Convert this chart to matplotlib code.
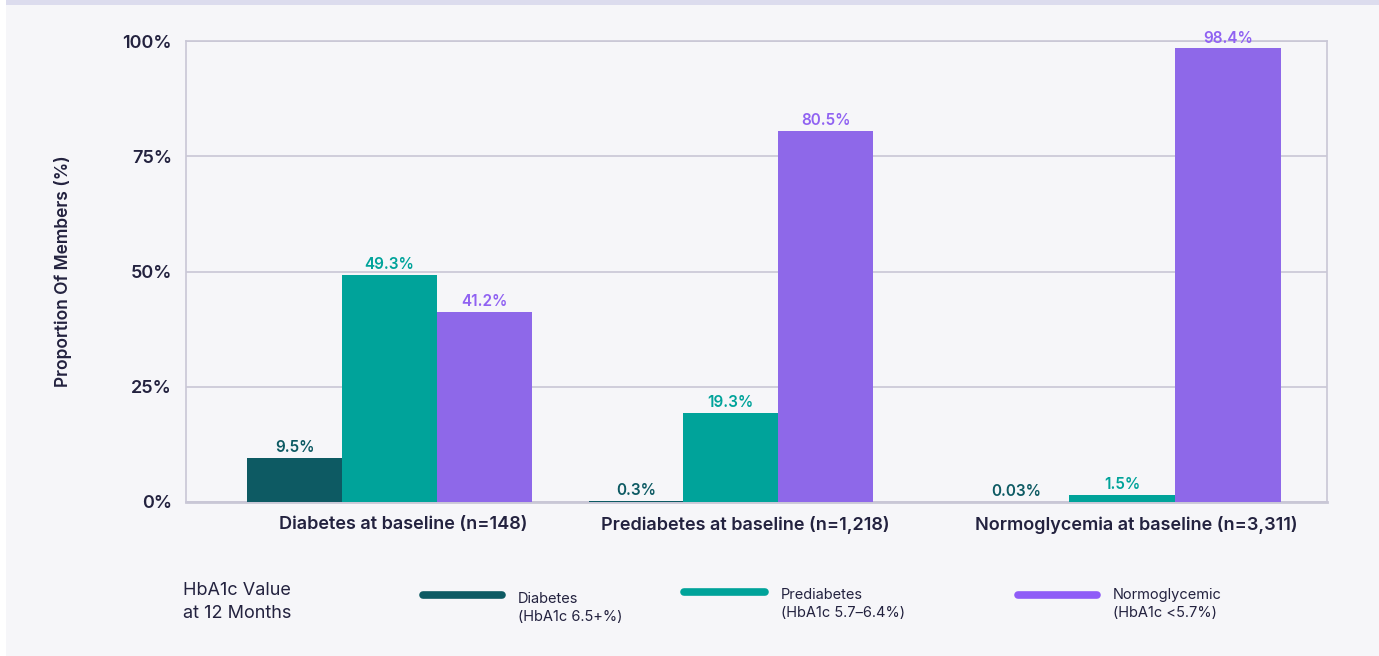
import matplotlib
matplotlib.use("Agg")
import matplotlib.pyplot as plt
import matplotlib.transforms as mtransforms
from matplotlib.lines import Line2D
from matplotlib.patches import Rectangle

# Baseline groups and HbA1c outcome at 12 months
groups = ["Diabetes at baseline (n=148)",
          "Prediabetes at baseline (n=1,218)",
          "Normoglycemia at baseline (n=3,311)"]
diabetes = [9.5, 0.3, 0.03]
prediabetes = [49.3, 19.3, 1.5]
normoglycemic = [41.2, 80.5, 98.4]
value_labels = [["9.5%", "0.3%", "0.03%"],
                ["49.3%", "19.3%", "1.5%"],
                ["41.2%", "80.5%", "98.4%"]]
series_names = ["Diabetes\n(HbA1c 6.5+%)",
                "Prediabetes\n(HbA1c 5.7\u20136.4%)",
                "Normoglycemic\n(HbA1c <5.7%)"]
yticks = [0, 25, 50, 75, 100]
ytick_labels = ["0%", "25%", "50%", "75%", "100%"]

bar_colors = ["#0d5a63", "#00a39a", "#8e68e9"]
label_colors = ["#0d5a63", "#00a39a", "#9062f2"]
key_colors = ["#0d5a63", "#00a39a", "#8f5cf7"]
ink = "#23223f"
grid_c = "#c9c7d6"

plt.rcParams["font.family"] = ["Inter", "DejaVu Sans"]

fig = plt.figure(figsize=(13.79, 6.56), dpi=100, facecolor="white")
fig.patches.append(Rectangle((6 / 1379, 0), 1 - 6 / 1379, 1, transform=fig.transFigure,
                             facecolor="#f6f6f9", edgecolor="none", zorder=-10))
fig.patches.append(Rectangle((6 / 1379, 1 - 5 / 656), 1 - 6 / 1379, 5 / 656,
                             transform=fig.transFigure, facecolor="#dcdcee",
                             edgecolor="none", zorder=-9))

ax = fig.add_axes([186 / 1379, 154 / 656, 1141 / 1379, 461 / 656])
ax.set_facecolor("#f6f6f9")

# group centres and bar widths in axis units
group_x = [0.1784, 0.4775, 0.8203]
bar_w = [0.0830, 0.0830, 0.0930]

series = [diabetes, prediabetes, normoglycemic]
for s, vals in enumerate(series):
    xs = [group_x[g] + (s - 1) * bar_w[g] for g in range(len(groups))]
    bars = ax.bar(xs, vals, width=bar_w, color=bar_colors[s], zorder=3)
    for b, lab in zip(bars, value_labels[s]):
        ax.annotate(lab, (b.get_x() + b.get_width() / 2, b.get_height()),
                    xytext=(0, 2), textcoords="offset points", ha="center",
                    va="bottom", fontsize=11, fontweight="semibold",
                    color=label_colors[s], zorder=5, annotation_clip=False)

ax.set_xlim(0, 1)
ax.set_ylim(0, 100)
ax.set_yticks(yticks)
ax.set_yticklabels(ytick_labels, fontsize=13, fontweight="semibold", color=ink)
ax.set_xticks(group_x)
ax.set_xticklabels(groups, fontsize=13, fontweight="semibold", color=ink)
ax.tick_params(axis="both", length=0)
ax.tick_params(axis="y", pad=10)
ax.tick_params(axis="x", pad=10)
shift = mtransforms.ScaledTranslation(14 / 100, 0, fig.dpi_scale_trans)
for t in ax.get_xticklabels():
    t.set_transform(t.get_transform() + shift)

ax.grid(axis="y", color=grid_c, linewidth=1.2, zorder=0)
for side in ["left", "right", "top"]:
    ax.spines[side].set_color(grid_c)
    ax.spines[side].set_linewidth(1.2)
ax.spines["bottom"].set_color(grid_c)
ax.spines["bottom"].set_linewidth(2)

ax.set_ylabel("Proportion Of Members (%)", fontsize=12.5, fontweight="semibold",
              color=ink, labelpad=0)
ax.yaxis.set_label_coords(-114 / 1141, 0.5)

# legend drawn along the bottom
fig.text(183 / 1379, 1 - 602 / 656, "HbA1c Value\nat 12 Months", fontsize=13,
         color=ink, ha="left", va="center", linespacing=1.4)
key_x = [(423, 502), (684, 765), (1018, 1097)]
key_y = [595, 592, 595]
text_x = [518, 781, 1113]
text_y = [608, 604, 604]
for k in range(3):
    fig.lines.append(Line2D([key_x[k][0] / 1379, key_x[k][1] / 1379],
                            [1 - key_y[k] / 656] * 2, transform=fig.transFigure,
                            color=key_colors[k], linewidth=5.5,
                            solid_capstyle="round"))
    fig.text(text_x[k] / 1379, 1 - text_y[k] / 656, series_names[k], fontsize=10.5,
             color=ink, ha="left", va="center", linespacing=1.45)

fig.savefig("out.png", dpi=100, facecolor=fig.get_facecolor())
